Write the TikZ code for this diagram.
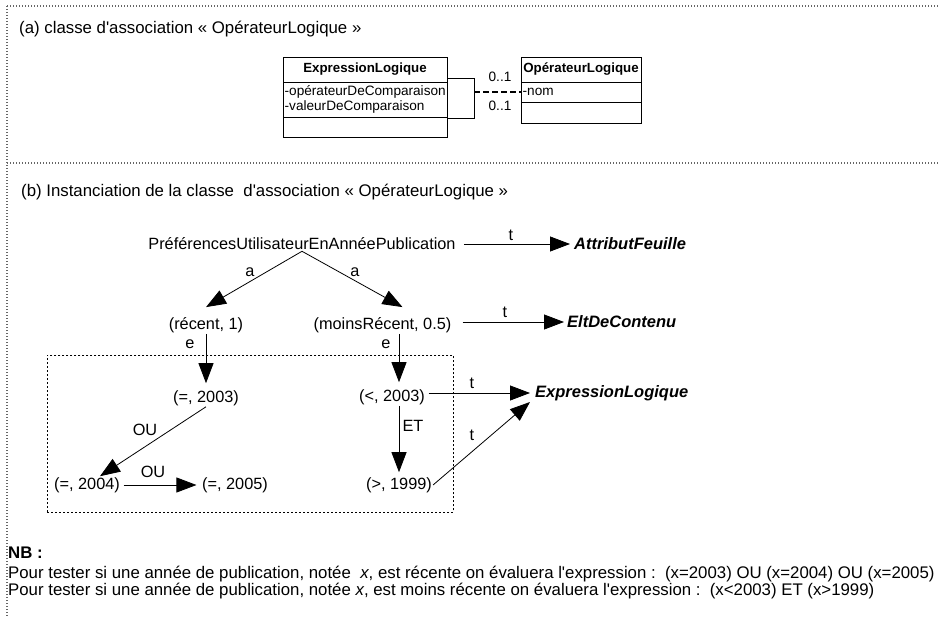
\documentclass[tikz,border=0pt]{standalone}
\usepackage{fontspec}
\newfontfamily\arialf{Liberation Sans}
\usetikzlibrary{arrows.meta}

\begin{document}
\begin{tikzpicture}[x=1pt,y=-1pt,
  every node/.style={inner sep=1pt},
  tn/.style={font=\arialf\fontsize{16.3}{19}\selectfont},
  tnb/.style={font=\arialf\fontsize{16.5}{19}\selectfont\bfseries\itshape},
  ttl/.style={font=\arialf\fontsize{16.8}{19}\selectfont, anchor=west},
  cls/.style={font=\arialf\fontsize{13.6}{16}\selectfont},
  clsb/.style={font=\arialf\fontsize{13.3}{16}\selectfont\bfseries},
  arr/.style={-{Triangle[length=20pt,width=15pt]}, line width=0.8pt},
  panelline/.style={draw=black!60, line width=1.1pt, dash pattern=on 1.4pt off 1.6pt},
  groupbox/.style={draw, line width=0.8pt, dash pattern=on 2pt off 2pt, inner sep=0pt},
  classbox/.style={draw, line width=0.9pt, inner sep=0pt, anchor=north west},
  assoc/.style={line width=1.6pt, dash pattern=on 6pt off 3pt}
]
\useasboundingbox (0,0) rectangle (940,618);

% panel borders
\draw[panelline] (7,6) -- (940,6);
\draw[panelline] (7,6) -- (7,618);
\draw[panelline] (7,163) -- (940,163);

% ---------- part (a): association class ----------
\node[ttl] (titlea) at (18,29) {(a) classe d'association « OpérateurLogique »};

\node[classbox, minimum width=164pt, minimum height=80pt] (elbox) at (283,57) {};
\draw[line width=0.9pt] ([yshift=-25pt]elbox.north west) -- ([yshift=-25pt]elbox.north east);
\draw[line width=0.9pt] ([yshift=-60pt]elbox.north west) -- ([yshift=-60pt]elbox.north east);
\node[clsb] (elname) at (365,69.5) {ExpressionLogique};
\node[cls, anchor=west] (elattra) at (283.5,92) {-opérateurDeComparaison};
\node[cls, anchor=west] (elattrb) at (283.5,107) {-valeurDeComparaison};

\node[classbox, minimum width=120pt, minimum height=66pt] (olbox) at (521,57) {};
\draw[line width=0.9pt] ([yshift=-25pt]olbox.north west) -- ([yshift=-25pt]olbox.north east);
\draw[line width=0.9pt] ([yshift=-45pt]olbox.north west) -- ([yshift=-45pt]olbox.north east);
\node[clsb] (olname) at (581,69.5) {OpérateurLogique};
\node[cls, anchor=west] (olattr) at (521.5,92) {-nom};

% reflexive association bracket and its association class link
\coordinate (brtop) at (474,78);
\coordinate (brbot) at (474,118);
\coordinate (brmid) at (474,92);
\draw[line width=0.9pt] (elbox.east |- brtop) -- (brtop) -- (brbot) -- (elbox.east |- brbot);
\draw[assoc] (brmid) -- (olbox.west |- brmid);
\node[cls] (multa) at (500,77) {0..1};
\node[cls] (multb) at (500,106) {0..1};

% ---------- part (b): instantiation ----------
\node[ttl] (titleb) at (20,192) {(b) Instanciation de la classe\ \ d'association « OpérateurLogique »};

\node[tn] (root) at (302,244) {PréférencesUtilisateurEnAnnéePublication};
\node[tnb, anchor=west] (af) at (573,244) {AttributFeuille};
\node[tn] (recent) at (206,325) {(récent, 1)};
\node[tn] (moins) at (382.5,325) {(moinsRécent, 0.5)};
\node[tnb, anchor=west] (edc) at (566,322) {EltDeContenu};
\node[tn] (eqa) at (206,398) {(=, 2003)};
\node[tn] (lt) at (392,397) {(<, 2003)};
\node[tnb, anchor=west] (exl) at (534,393) {ExpressionLogique};
\node[tn] (eqb) at (87,485) {(=, 2004)};
\node[tn] (eqc) at (235,485) {(=, 2005)};
\node[tn] (gt) at (399,485) {(>, 1999)};

\node[groupbox, anchor=north west, minimum width=406pt, minimum height=157pt] (grp) at (47,355) {};

% arcs
\draw[arr] (root.south) -- ([yshift=9pt]recent.north);
\draw[arr] (root.south) -- ([xshift=20pt,yshift=9pt]moins.north);
\draw[arr, shorten <=7pt, shorten >=3pt] (root.east) -- (af.west);
\draw[arr, shorten <=10pt, shorten >=2pt] (moins.east |- edc.west) -- (edc.west);
\draw[arr, shorten >=6pt] (recent.south) -- (eqa.north);
\draw[arr, shorten >=6pt] (moins.south -| gt.north) -- (lt.north -| gt.north);
\draw[arr, shorten <=2.5pt, shorten >=4pt] (lt.east |- exl.west) -- (exl.west);
\draw[arr, shorten >=4pt] (lt.south -| gt.north) -- (gt.north);
\draw[arr] (gt.east) -- ([xshift=-4pt,yshift=-9pt]exl.west);
\draw[arr] (eqa.south) -- ([xshift=13pt]eqb.north);
\draw[arr, shorten <=2.5pt, shorten >=4.5pt] (eqb.east) -- (eqc.west);

% arc labels
\node[tn] (la1) at (250,272) {a};
\node[tn] (la2) at (355,272) {a};
\node[tn] (lt1) at (511,235) {t};
\node[tn] (lt2) at (505,312) {t};
\node[tn] (le1) at (190,344) {e};
\node[tn] (le2) at (386,344) {e};
\node[tn] (lou1) at (145,430) {OU};
\node[tn] (lou2) at (153,472) {OU};
\node[tn] (let) at (413,426) {ET};
\node[tn] (lt3) at (472,383) {t};
\node[tn] (lt4) at (472,435) {t};

% note
\node[ttl, font=\arialf\fontsize{16.8}{19}\selectfont\bfseries] (nb) at (7,553) {NB :};
\node[ttl] (nbl1) at (7,574) {Pour tester si une année de publication, notée\ \ \textit{x}, est récente on évaluera l'expression :\ \ (x=2003) OU (x=2004) OU (x=2005)};
\node[ttl] (nbl2) at (7,591) {Pour tester si une année de publication, notée \textit{x}, est moins récente on évaluera l'expression :\ \ (x<2003) ET (x>1999)};
\end{tikzpicture}
\end{document}
